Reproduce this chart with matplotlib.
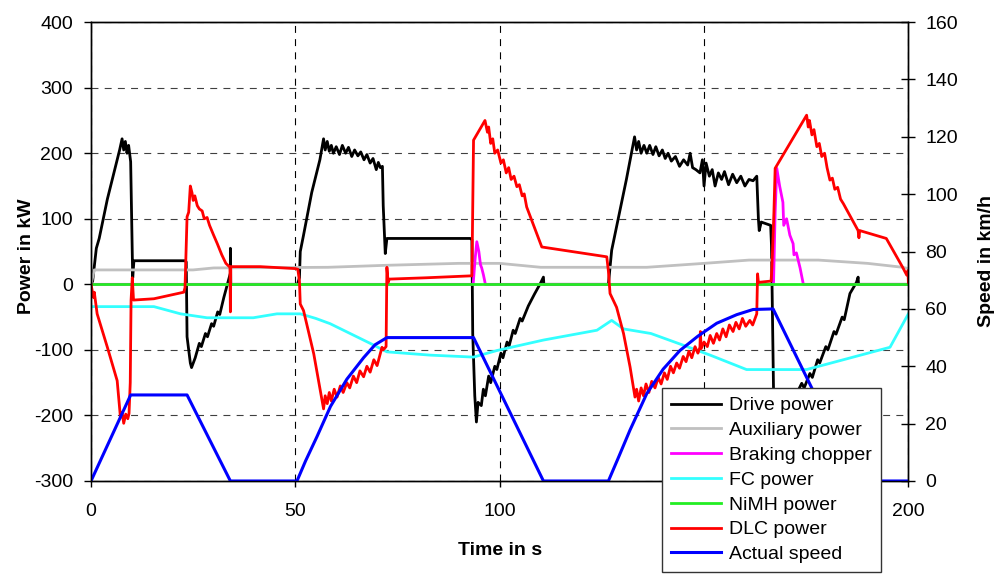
import matplotlib.pyplot as plt


plt.rcParams["font.family"] = ["Liberation Sans", "DejaVu Sans"]
plt.rcParams["lines.scale_dashes"] = False
plt.rcParams["axes.unicode_minus"] = False


# Drive power (kW)
DRIVE_T = [
    0, 0.4, 1.3, 2, 4, 6, 7.0, 7.6, 8.0, 8.4, 8.8, 9.2, 9.7, 10.2, 10.5,
    23.1, 23.3, 23.5, 24.3, 24.6, 25.5, 26.5, 27, 28, 28.5, 29.5, 30, 31,
    31.5, 32.5, 33.6, 34.1, 34.1, 34.2, 50.5,
    51, 51.2, 52, 54, 56, 56.9, 57.3, 57.8, 58.3, 58.8, 59.3, 60, 60.8,
    61.5, 62.3, 63, 63.8, 64.5, 65.3, 66, 66.8, 67.5, 68.3, 69, 69.8, 70.3,
    70.8, 71.3, 71.5, 72, 72.4, 92.8, 93.2, 93.4, 93.9, 94.3, 94.7, 95.5,
    96, 96.5, 97.3, 97.8, 98.8, 99.3, 100.3, 100.8, 101.8, 102.3, 103.3,
    103.8, 105, 105.5, 107, 108.5, 110, 110.7, 110.8, 126.6,
    127.4, 128.5, 131, 133, 133.5, 134, 134.6, 135.3, 136, 136.7, 137.5,
    138.2, 139, 139.8, 140.5, 141.2, 142, 143, 144, 145, 146, 146.6, 147.2,
    148, 149, 149.6, 150, 150.5, 151.3, 152, 152.7, 153.5, 154.3, 155, 156,
    157, 158, 159, 160, 161, 162, 162.9, 163.3, 163.5, 164, 166.3, 166.5,
    167, 167.2, 168, 170, 172, 173.9, 174.5, 175.9, 176.5, 177.8, 178.3,
    179.8, 180.3, 181.8, 182.3, 183.8, 184.3, 185.7, 187.3, 187.7, 187.8,
    200,
]
DRIVE_P = [
    0, 5, 55, 70, 130, 180, 205, 222, 205, 218, 200, 212, 187, 10, 36,
    36, 34, -80, -120, -127, -112, -90, -95, -75, -80, -60, -64, -42,
    -46, -20, 5, 17, 55, 0, 0,
    10, 50, 75, 140, 190, 222, 205, 218, 203, 212, 200, 210, 198,
    212, 200, 209, 195, 205, 196, 202, 190, 198, 185, 192, 175, 186,
    178, 180, 120, 47, 70, 70, 68, -75, -170, -210, -180, -185,
    -160, -170, -140, -150, -125, -130, -105, -112, -88, -94, -70,
    -75, -52, -56, -33, -15, 2, 11, 0, 0,
    52, 85, 160, 225, 205, 218, 200, 212, 200, 212, 198,
    210, 196, 205, 192, 200, 188, 195, 180, 190, 182, 200, 178,
    175, 170, 190, 150, 185, 165, 175, 150, 170, 160, 172, 152,
    168, 155, 165, 150, 160, 158, 165, 100, 82, 95, 90, 60,
    -160, -190, -205, -185, -175, -151, -158, -136, -142, -115, -120,
    -95, -100, -72, -76, -50, -54, -14, 3, 11, 0,
    0,
]

# Auxiliary power (kW)
AUX_T = [0, 0.8, 25, 30, 58, 72, 90, 100, 110, 136, 150, 161, 178, 190, 198.6, 200]
AUX_P = [0, 22, 22, 25, 26, 29, 32, 32, 26, 26, 32, 37, 37, 32, 26, 24]

# Braking chopper (kW)
CHOPPER_T = [
    0, 93.5, 94.0, 94.4, 94.9, 95.3, 95.6, 96.0, 96.5,
    167.0, 167.4, 167.8, 168.5, 169.3, 169.5, 170.2, 171, 171.8, 172.0,
    172.6, 173.5, 174.3, 200,
]
CHOPPER_P = [
    0, 0, 40, 65, 50, 30, 25, 15, 0,
    0, 110, 177, 150, 125, 90, 100, 75, 62, 45,
    48, 25, 0, 0,
]

# FC power (kW)
FC_T = [
    0.5, 15.4, 21.9, 28.4, 39.7, 45.5, 51.2, 55, 58.5, 63.4, 68.3, 72.4,
    83, 93.6, 99.3, 110.7, 123.8, 127.4, 130.3, 137, 144.1, 151.5, 160.4,
    175.1, 195.5, 200,
]
FC_P = [
    -34, -34, -45, -51, -51, -45, -45, -52, -60, -75, -90, -103,
    -108, -111, -101, -85, -70, -55, -68, -75, -91, -108, -130,
    -130, -96, -45,
]

# NiMH power (kW)
NIMH_T = [0, 200]
NIMH_P = [0, 0]

# DLC power (kW)
DLC_T = [
    0, 0.3, 0.6, 0.8, 1.5, 4, 6.4, 7.2, 7.6, 8.0, 8.5, 9.0, 9.3, 9.6, 9.8,
    10.1, 10.4, 15.4, 22.7, 23.0, 23.5, 23.9, 24.3, 24.7, 25.0, 25.4, 26,
    26.5, 27.2, 27.7, 28.4, 29, 30, 30.9, 32, 33, 34.0, 34.1, 34.2, 41.4,
    50, 50.6, 51, 51.2, 52, 54.5, 56.1, 56.9, 57.3, 57.8, 58.3, 58.8, 59.5,
    60.2, 61, 61.7, 62.6, 63.3, 64.2, 65, 65.8, 66.7, 67.5, 68.3, 69.2, 70,
    70.8, 71.2, 71.5, 72.2, 72.4, 72.7, 73, 82, 92.8, 93.2, 93.6, 96.4, 97,
    97.3, 97.8, 98.3, 98.8, 99.5, 100.3, 100.9, 101.6, 102.2, 102.8, 103.5,
    104.2, 104.8, 105.5, 106, 106.6, 110.3, 126.2, 126.6, 127, 128.6, 130.3,
    131.9, 133.1, 133.5, 134, 134.6, 135.2, 135.8, 136.5, 137.2, 138, 138.8,
    139.5, 140.3, 141, 141.8, 142.5, 143.3, 144, 144.9, 145.6, 146.3, 147,
    147.8, 148.5, 149, 149.1, 149.3, 150, 150.8, 151.5, 152.3, 153.1, 153.8,
    154.6, 155.4, 156.2, 157.1, 157.8, 158.6, 159.4, 160.2, 161.2, 161.9,
    162.9, 163.1, 163.3, 166.4, 166.6, 167.1, 167.4, 175.1, 175.5, 175.8,
    176.4, 176.9, 177.6, 178.2, 178.8, 179.5, 180.1, 180.8, 181.4, 182,
    182.7, 183.4, 184.1, 187.7, 187.9, 188.1, 194.6, 198.6, 199.6, 199.9,
    200,
]
DLC_P = [
    0, -10, -20, -12, -45, -96, -147, -203, -195, -212, -198, -205, -197,
    -150, -24, 10, -24, -22, -12, -5, 103, 110, 150, 140, 128, 135, 120,
    115, 112, 100, 102, 90, 75, 62, 45, 32, 26, -42, 27, 27,
    24, 23, 5, -30, -40, -106, -162, -190, -170, -182, -165, -178, -160,
    -172, -155, -165, -150, -158, -140, -150, -132, -141, -125, -134, -115,
    -124, -105, -96, -100, -95, 26, 3, 8, 10, 13, 13, 220, 250, 232,
    240, 215, 222, 200, 205, 185, 190, 170, 178, 160, 165,
    149, 152, 135, 138, 118, 57, 42, 20, -14, -35, -75,
    -126, -172, -160, -178, -158, -170, -152, -165, -148, -158, -142,
    -152, -135, -145, -125, -135, -120, -128, -110, -118, -102, -112,
    -95, -105, -96, -72, -98, -88, -95, -78, -90, -75, -85,
    -68, -80, -62, -72, -58, -68, -52, -64, -55, -62,
    -45, 16, 3, 5, 25, 110, 177, 258, 240, 250,
    228, 236, 210, 215, 195, 200, 178, 159, 162, 145,
    148, 130, 123, 82, 71, 82, 70, 26, 14, 21,
    3,
]

# Actual speed (km/h)
SPEED_T = [
    0, 9.7, 23.5, 34.1, 50.4, 52.5, 55.3, 58.6, 62.6, 66.7, 69.5, 72.4,
    93.6, 110.7, 126.6, 129, 131.9, 136, 140, 144.1, 148.5, 153.1, 158,
    162, 166.9, 187.5, 200,
]
SPEED_V = [
    0, 30, 30, 0, 0, 7, 15.5, 26, 35.5, 43, 47.5, 50,
    50, 0, 0, 8, 17.8, 30.5, 39, 45.5, 50.5, 55, 58,
    59.8, 60, 0, 0,
]

POWER_TICKS = [-300, -200, -100, 0, 100, 200, 300, 400]
SPEED_TICKS = [0, 20, 40, 60, 80, 100, 120, 140, 160]
TIME_TICKS = [0, 50, 100, 150, 200]


def plot_power_chart():
    fig = plt.figure(figsize=(9.98, 5.75), dpi=100)
    ax = fig.add_axes([0.0912, 0.1635, 0.819, 0.798])
    ax2 = ax.twinx()

    lw = 2.0
    h_drive, = ax.plot(DRIVE_T, DRIVE_P, color="black", lw=lw, label="Drive power")
    h_aux, = ax.plot(AUX_T, AUX_P, color="#c0c0c0", lw=lw, label="Auxiliary power")
    h_chop, = ax.plot(CHOPPER_T, CHOPPER_P, color="#ff00ff", lw=lw, label="Braking chopper")
    h_fc, = ax.plot(FC_T, FC_P, color="#33ffff", lw=lw, label="FC power")
    h_nimh, = ax.plot(NIMH_T, NIMH_P, color="#22ee22", lw=lw, label="NiMH power")
    h_dlc, = ax.plot(DLC_T, DLC_P, color="#ff0000", lw=lw, label="DLC power")
    h_speed, = ax2.plot(SPEED_T, SPEED_V, color="#0000ff", lw=2.2, label="Actual speed")

    ax.set_xlim(0, 200)
    ax.set_ylim(-300, 400)
    ax2.set_ylim(0, 160)
    ax.set_xticks(TIME_TICKS)
    ax.set_yticks(POWER_TICKS)
    ax2.set_yticks(SPEED_TICKS)

    ax.xaxis.grid(True, color="black", lw=0.8, linestyle=(0, (5, 4.5)))
    ax.yaxis.grid(True, color="#404040", lw=0.8, linestyle=(0, (5, 4.5)))
    ax.set_axisbelow(True)

    for spine in list(ax.spines.values()) + list(ax2.spines.values()):
        spine.set_linewidth(1.0)
        spine.set_color("black")

    ax.tick_params(axis="y", direction="out", length=5, width=1, pad=8, labelsize=14)
    ax.tick_params(axis="x", direction="out", length=4.5, width=1, pad=11, labelsize=14)
    ax2.tick_params(axis="y", direction="inout", length=10.5, width=1, pad=7, labelsize=14)

    ax.set_xlabel("Time in s", fontsize=14, fontweight="bold")
    ax.set_ylabel("Power in kW", fontsize=14, fontweight="bold")
    ax2.set_ylabel("Speed in km/h", fontsize=14, fontweight="bold")
    ax.xaxis.set_label_coords(0.5, -0.132)
    ax.yaxis.set_label_coords(-0.069, 0.49)
    ax2.yaxis.set_label_coords(1.085, 0.48)

    legend = ax2.legend(
        handles=[h_drive, h_aux, h_chop, h_fc, h_nimh, h_dlc, h_speed],
        loc="upper left",
        bbox_to_anchor=(662 / 998, 1 - 388 / 575),
        bbox_transform=fig.transFigure,
        borderaxespad=0,
        fontsize=14,
        handlelength=2.6,
        handletextpad=0.4,
        labelspacing=0.37,
        borderpad=0.45,
        fancybox=False,
        framealpha=1,
        edgecolor="#333333",
    )
    legend.get_frame().set_linewidth(1.0)

    fig.savefig("out.png", dpi=100)
    plt.close(fig)


def main():
    plot_power_chart()


if __name__ == "__main__":
    main()
